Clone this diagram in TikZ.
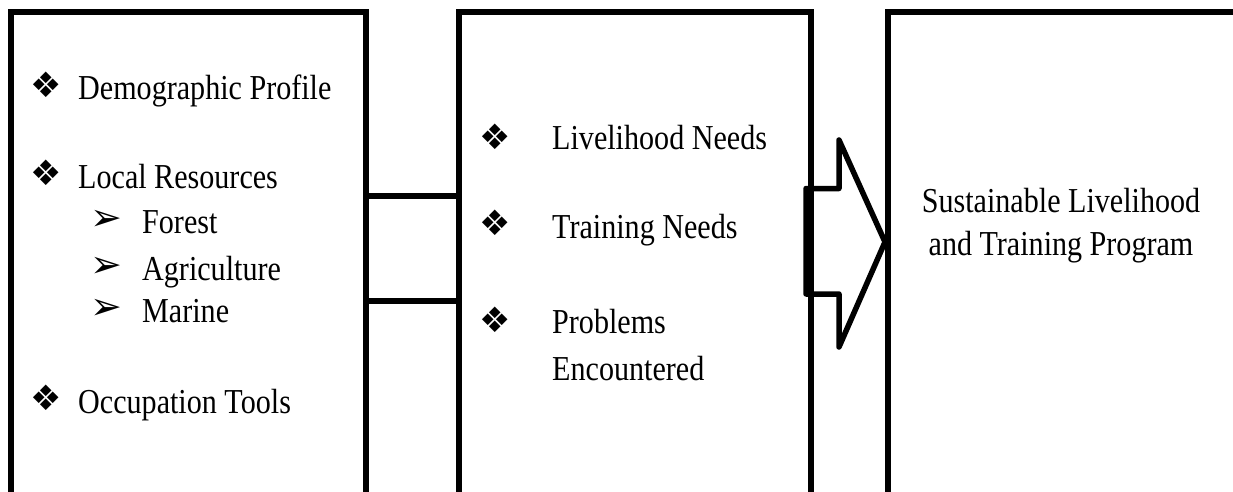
\documentclass[tikz,border=0pt]{standalone}
\usepackage{fontspec}
\setmainfont{Liberation Serif}[FakeStretch=0.86]
\newfontfamily\symfont{DejaVu Sans}
\begin{document}
\begin{tikzpicture}[x=1pt,y=-1pt,
  box/.style={draw=black,line width=6pt,inner sep=0pt,minimum height=483pt,anchor=north west},
  txt/.style={anchor=base west,inner sep=0pt,font=\fontsize{35}{40}\selectfont},
  ctxt/.style={anchor=base,inner sep=0pt,font=\fontsize{35}{40}\selectfont},
  dia/.style={inner sep=0pt,font=\symfont\fontsize{35}{38}\selectfont},
  arr/.style={inner sep=0pt,font=\symfont\fontsize{38}{40}\selectfont},
  link/.style={draw=black,line width=6pt},
  blockarrow/.style={draw=black,line width=5.5pt,line join=round}]
\useasboundingbox (0,0) rectangle (1233,492);
% boxes
\node[box,minimum width=355pt] (b1) at (8,9) {};
\node[box,minimum width=352.5pt] (b2) at (455.5,9) {};
\node[box,minimum width=360pt] (b3) at (885,9) {};
% connectors between box 1 and box 2
\draw[link] ([yshift=58pt]b1.east) -- ([yshift=58pt]b2.west);
\draw[link] ([yshift=-47.5pt]b1.east) -- ([yshift=-47.5pt]b2.west);
% block arrow from box 2 to box 3
\coordinate (tip) at (885,242);
\draw[blockarrow] (806,188.5) -- (839,188.5) -- (839,140) -- (tip) -- (839,347) -- (839,294) -- (806,294) -- cycle;
% box 1 text
\node[dia] (d1) at (46.5,85) {❖};
\node[txt] (t1) at (78,100) {Demographic Profile};
\node[dia] (d2) at (46.5,173) {❖};
\node[txt] (t2) at (78,188) {Local Resources};
\node[arr] (a1) at (106.5,220.5) {➢};
\node[txt] (t3) at (142,233) {Forest};
\node[arr] (a2) at (106.5,267.5) {➢};
\node[txt] (t4) at (142,280) {Agriculture};
\node[arr] (a3) at (106.5,309.5) {➢};
\node[txt] (t5) at (142,322) {Marine};
\node[dia] (d3) at (46.5,398) {❖};
\node[txt] (t6) at (78,413) {Occupation Tools};
% box 2 text
\node[dia] (d4) at (495,137) {❖};
\node[txt] (u1) at (552,149) {Livelihood Needs};
\node[dia] (d5) at (495,223) {❖};
\node[txt] (u2) at (552,238) {Training Needs};
\node[dia] (d6) at (495,320) {❖};
\node[txt] (u3) at (552,333) {Problems};
\node[txt] (u4) at (552,380) {Encountered};
% box 3 text
\node[ctxt] (v1) at (1061,212) {Sustainable Livelihood};
\node[ctxt] (v2) at (1061,255) {and Training Program};
\end{tikzpicture}
\end{document}
